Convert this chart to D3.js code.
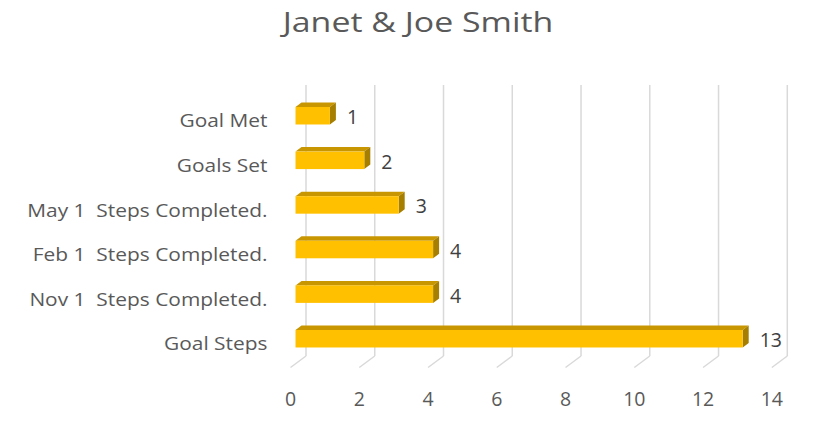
<!doctype html>
<html>
<head>
<meta charset="utf-8">
<style>
  body { margin: 0; background: #fff; font-family: "Open Sans", Lato, sans-serif; }
  svg text { fill: #595959; }
  .grid line { stroke: #d9d9d9; stroke-width: 1.5px; }
</style>
<script src="https://d3js.org/d3.v7.min.js"></script>
</head>
<body>
<script>
// data, top row first as drawn
var categories = ['Goal Met', 'Goals Set', 'May 1  Steps Completed.', 'Feb 1  Steps Completed.', 'Nov 1  Steps Completed.', 'Goal Steps'];
var values = [1, 2, 3, 4, 4, 13];
var xTicks = [0, 2, 4, 6, 8, 10, 12, 14];
var title = 'Janet & Joe Smith';

var W = 828, H = 424;
var depthX = 6, depthY = 4.5;   // 3d offset of the bar boxes
var wallTop = 85, wallBottom = 356;
var floorX = -15.5, floorY = 11.5; // back wall -> front edge of floor
var catStretch = 1.1, titleStretch = 1.21; // the source text is a bit wider than Open Sans

var svg = d3.select('body').append('svg')
  .attr('width', W)
  .attr('height', H);

// front faces of the bars
var xFront = d3.scaleLinear().domain([0, 14]).range([295.5, 295.5 + 14 * 34.4]);
// back wall gridlines
var xBack = d3.scaleLinear().domain([0, 14]).range([306, 787.3]);

var step = 44.6, pad = 0.608;
var y0 = 107 - step * pad;
var yScale = d3.scaleBand()
  .domain(categories)
  .range([y0, y0 + step * (categories.length - pad + 2 * pad)])
  .paddingInner(pad)
  .paddingOuter(pad);

// gridlines on the wall + floor edges
var grid = svg.append('g').attr('class', 'grid');
grid.selectAll('.wall')
  .data(xTicks)
  .enter().append('line')
  .attr('class', 'wall')
  .attr('x1', d => xBack(d)).attr('x2', d => xBack(d))
  .attr('y1', wallTop).attr('y2', wallBottom);
grid.selectAll('.floor')
  .data(xTicks)
  .enter().append('line')
  .attr('class', 'floor')
  .attr('x1', d => xBack(d)).attr('x2', d => xBack(d) + floorX)
  .attr('y1', wallBottom).attr('y2', wallBottom + floorY);

// tick labels along the front edge of the floor
svg.selectAll('.tick-label')
  .data(xTicks)
  .enter().append('text')
  .attr('class', 'tick-label')
  .attr('x', d => xBack(d) + floorX)
  .attr('y', 406)
  .attr('text-anchor', 'middle')
  .style('font-size', '19.5px')
  .text(d => d);

var rows = categories.map((c, i) => ({ cat: c, val: values[i] }));
var h = yScale.bandwidth();

var bar = svg.selectAll('.bar')
  .data(rows)
  .enter().append('g')
  .attr('class', 'bar');

// top face
bar.append('polygon')
  .attr('points', d => {
    var x0 = xFront(0), x1 = xFront(d.val), y = yScale(d.cat);
    return [[x0, y], [x0 + depthX, y - depthY], [x1 + depthX, y - depthY], [x1, y]].join(' ');
  })
  .style('fill', '#c89600');

// right side face
bar.append('polygon')
  .attr('points', d => {
    var x1 = xFront(d.val), y = yScale(d.cat);
    return [[x1, y], [x1 + depthX, y - depthY], [x1 + depthX, y + h - depthY], [x1, y + h]].join(' ');
  })
  .style('fill', '#a67e00');

// front face
bar.append('rect')
  .attr('x', xFront(0))
  .attr('y', d => yScale(d.cat))
  .attr('width', d => xFront(d.val) - xFront(0))
  .attr('height', h)
  .style('fill', '#ffc000');

// value labels
bar.append('text')
  .attr('x', d => xFront(d.val) + 17)
  .attr('y', d => yScale(d.cat) + h / 2 + 8.5)
  .style('font-size', '19.5px')
  .style('fill', '#404040')
  .text(d => d.val);

// category labels
svg.selectAll('.cat-label')
  .data(rows)
  .enter().append('text')
  .attr('class', 'cat-label')
  .attr('transform', d => `translate(267.5, ${yScale(d.cat) + h / 2 + 11.6}) scale(${catStretch}, 1)`)
  .attr('text-anchor', 'end')
  .style('font-size', '19px')
  .style('white-space', 'pre')
  .text(d => d.cat);

// title
svg.append('text')
  .attr('transform', `translate(418, 32) scale(${titleStretch}, 1)`)
  .attr('text-anchor', 'middle')
  .style('font-size', '28px')
  .text(title);
</script>
</body>
</html>
